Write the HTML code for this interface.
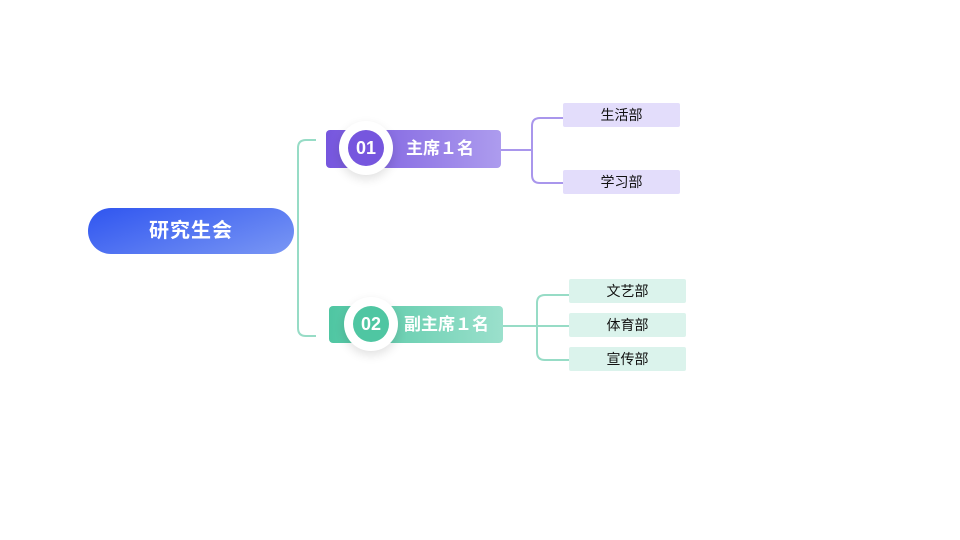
<!DOCTYPE html>
<html><head><meta charset="utf-8"><style>
body{margin:0;width:960px;height:540px;background:#fff;position:relative;overflow:hidden;font-family:"Liberation Sans","Noto Sans CJK SC",sans-serif}
.a{position:absolute}
.root{left:88px;top:208px;width:206px;height:46px;border-radius:23px;background:linear-gradient(160deg,#2f55f0,#7a97f4);color:#fff;font-size:20px;font-weight:bold;text-align:center;line-height:46px;letter-spacing:1px}
.n{height:38px;border-radius:4px;color:#fff;font-weight:bold;font-size:17px;line-height:38px}
.c{border-radius:50%;background:#fff;box-shadow:0 4px 10px rgba(0,0,0,.12)}
.ci{border-radius:50%;color:#fff;font-size:18px;font-weight:bold;text-align:center}
.ch{font-size:14px;text-align:center;line-height:24px;height:24px;color:#111;border-radius:2px}
</style></head><body>
<svg class="a" style="left:0;top:0" width="960" height="540">
<path d="M316 140 H306 Q298 140 298 148 V328 Q298 336 306 336 H316" fill="none" stroke="#97dcc6" stroke-width="2"/>
<path d="M501 150 H532 M563 118 H540 Q532 118 532 126 V175 Q532 183 540 183 H563" fill="none" stroke="#a996ec" stroke-width="2"/>
<path d="M503 326 H537 M569 295 H545 Q537 295 537 303 V352 Q537 360 545 360 H569 M537 326 H569" fill="none" stroke="#97dcc6" stroke-width="2"/>
</svg>
<div class="a root">研究生会</div>
<div class="a n" style="left:326px;top:130px;width:175px;background:linear-gradient(90deg,#7656de,#ad9cee)"><span style="position:absolute;left:80px">主席１名</span></div>
<div class="a c" style="left:339px;top:121px;width:54px;height:54px"></div>
<div class="a ci" style="left:348px;top:130px;width:36px;height:36px;line-height:36px;background:#7656de">01</div>
<div class="a n" style="left:329px;top:306px;width:174px;height:37px;background:linear-gradient(90deg,#4fc6a2,#9be0cc)"><span style="position:absolute;left:75px">副主席１名</span></div>
<div class="a c" style="left:344px;top:297px;width:54px;height:54px"></div>
<div class="a ci" style="left:353px;top:306px;width:36px;height:36px;line-height:36px;background:#4fc6a2">02</div>
<div class="a ch" style="left:563px;top:103px;width:117px;background:#e3ddfb">生活部</div>
<div class="a ch" style="left:563px;top:170px;width:117px;background:#e3ddfb">学习部</div>
<div class="a ch" style="left:569px;top:279px;width:117px;background:#dbf3ec">文艺部</div>
<div class="a ch" style="left:569px;top:313px;width:117px;background:#dbf3ec">体育部</div>
<div class="a ch" style="left:569px;top:347px;width:117px;background:#dbf3ec">宣传部</div>
</body></html>
